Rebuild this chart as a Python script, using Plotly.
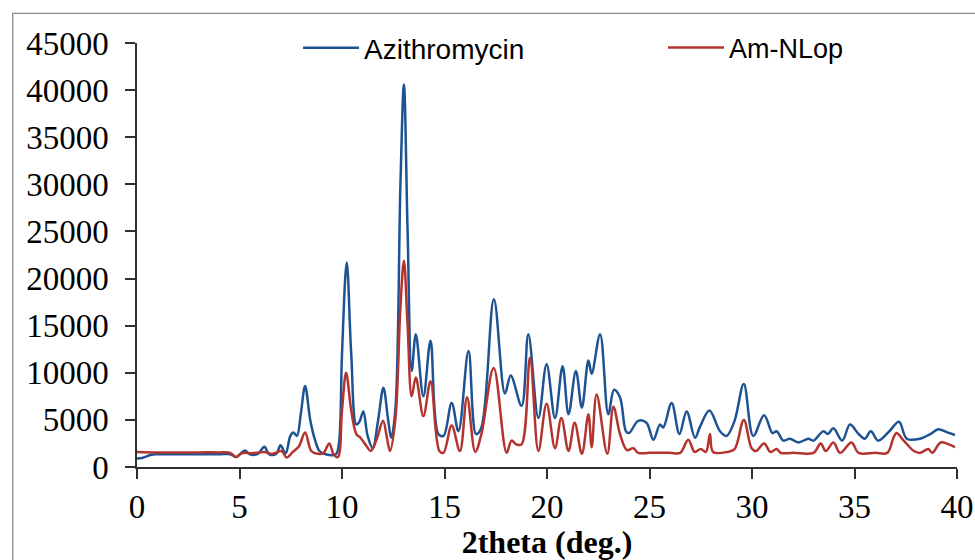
import plotly.graph_objects as go

# ---- data ----
two_theta_azi = [0.0, 0.25, 0.7, 1.0, 2.0, 3.0, 4.0, 4.55, 4.83, 5.05, 5.27, 5.5, 5.9, 6.21, 6.45,
                 6.8, 7.0, 7.25, 7.48, 7.63, 7.8, 8.0, 8.2, 8.45, 8.68, 8.9, 9.2, 9.7, 9.85, 10.0,
                 10.23, 10.45, 10.7, 10.85, 11.04, 11.25, 11.5, 11.75, 12.02, 12.25, 12.4, 12.6,
                 12.85, 13.02, 13.2, 13.4, 13.6, 13.97, 14.32, 14.7, 14.95, 15.35, 15.68, 16.17,
                 16.54, 16.8, 17.41, 17.95, 18.23, 18.76, 19.09, 19.58, 19.98, 20.39, 20.76, 21.05,
                 21.41, 21.7, 22.02, 22.18, 22.59, 22.99, 23.27, 23.56, 23.85, 24.0, 24.45, 24.85,
                 25.19, 25.51, 25.67, 26.08, 26.46, 26.81, 27.22, 27.45, 27.92, 28.44, 28.76, 29.15,
                 29.6, 30.06, 30.59, 31.0, 31.2, 31.53, 31.85, 32.26, 32.75, 33.0, 33.48, 33.7,
                 33.97, 34.4, 34.78, 35.2, 35.5, 35.8, 36.15, 36.7, 37.17, 37.55, 38.2, 38.7,
                 39.09, 39.5, 39.9]
intensity_azi = [900, 950, 1300, 1350, 1350, 1350, 1350, 1350, 1050, 1400, 1750, 1350, 1400, 2150, 1350,
                 1400, 2300, 1450, 3300, 3650, 3300, 5800, 8600, 5000, 2900, 1700, 1350, 1350, 2500, 12000,
                 21700, 12000, 4500, 4800, 5900, 3300, 2000, 4800, 8400, 5000, 3100, 6000,
                 30000, 40600, 25000, 10200, 14100, 7500, 13400, 3500, 3300, 6800, 3800, 12300,
                 3500, 4200, 17800, 7800, 9700, 6500, 14100, 5200, 10900, 5200, 10700, 5600,
                 10200, 6300, 11300, 9900, 14100, 5600, 8200, 7400, 3800, 3600, 4900, 4700,
                 2900, 4500, 4200, 6800, 3500, 5900, 3100, 4200, 6000, 3800, 3300, 4900,
                 8800, 3300, 5500, 3600, 3800, 2800, 3000, 2600, 3000, 2800, 3800, 3500,
                 4100, 2800, 4500, 3500, 3000, 3800, 2800, 3800, 4800, 3000, 3000, 3500,
                 4000, 3700, 3400]

two_theta_am = [0.0, 1.0, 2.0, 3.0, 4.0, 4.55, 4.83, 5.05, 5.27, 5.6, 6.2, 6.6, 7.05, 7.3, 7.6, 7.9,
                8.2, 8.5, 8.8, 9.1, 9.38, 9.6, 9.8, 10.0, 10.2, 10.45, 10.7, 10.9, 11.2, 11.4, 11.7,
                12.0, 12.2, 12.34, 12.6, 12.85, 13.02, 13.2, 13.4, 13.6, 13.97, 14.32, 14.75, 14.95,
                15.35, 15.75, 16.1, 16.5, 16.8, 17.4, 18.03, 18.27, 18.5, 18.76, 19.17, 19.58, 19.98,
                20.39, 20.7, 21.05, 21.35, 21.7, 22.02, 22.18, 22.42, 22.94, 23.24, 23.56, 23.9,
                24.21, 24.45, 25.0, 26.0, 26.5, 26.89, 27.2, 27.5, 27.75, 27.95, 28.1, 28.8, 29.15,
                29.6, 29.98, 30.2, 30.59, 30.9, 31.2, 31.4, 32.0, 33.0, 33.35, 33.6, 33.97, 34.3,
                34.85, 35.2, 36.0, 36.6, 36.9, 37.05, 37.4, 37.9, 38.2, 38.6, 38.8, 39.2, 39.6, 39.9]
intensity_am = [1600, 1550, 1550, 1550, 1550, 1500, 1050, 1400, 1500, 1450, 1600, 1400, 1700, 1000, 1600, 2200,
                3650, 1700, 1400, 1500, 2500, 1300, 1050, 6000, 10000, 6000, 3500, 3100, 2200, 1700, 3000,
                4900, 3000, 1700, 5000, 17000, 21900, 15000, 7500, 9500, 5400, 9100, 1700, 1500,
                4400, 1700, 7400, 1600, 3500, 10500, 1500, 2800, 2400, 2400, 11600, 1700, 6700,
                2000, 5200, 1700, 4700, 1400, 5600, 2100, 7700, 1400, 6400, 3500, 1800,
                2000, 1500, 1500, 1500, 1500, 2900, 1600, 1900, 1600, 3500, 1600, 1600, 1900,
                5000, 2000, 1700, 2500, 1600, 1900, 1500, 1500, 1500, 2500, 1700, 2600, 1500,
                2600, 1500, 1500, 1500, 3100, 3600, 2800, 1700, 1500, 1900, 1500, 2600, 2400, 2100]

series_names = ["Azithromycin", "Am-NLop"]
x_ticks = [0, 5, 10, 15, 20, 25, 30, 35, 40]
y_ticks = [0, 5000, 10000, 15000, 20000, 25000, 30000, 35000, 40000, 45000]
x_title = "2theta (deg.)"

BLUE = "#1d5393"
RED = "#b3332f"

fig = go.Figure()
fig.add_trace(go.Scatter(x=two_theta_azi, y=intensity_azi, mode="lines", name=series_names[0],
                         line=dict(color=BLUE, width=2.5, shape="spline", smoothing=1.0),
                         legend="legend", showlegend=True))
fig.add_trace(go.Scatter(x=two_theta_am, y=intensity_am, mode="lines", name=series_names[1],
                         line=dict(color=RED, width=2.5, shape="spline", smoothing=1.0),
                         legend="legend2", showlegend=True))

W, H = 975, 560
L, R, T, B = 137, 18, 43, 93
pw, ph = W - L - R, H - T - B

def px(xp):
    return (xp - L) / pw

def py(yp):
    return (H - B - yp) / ph

serif = "Liberation Serif, Times New Roman, serif"
axis_font = dict(family=serif, size=33, color="#000000")
leg_font = dict(family="Liberation Sans, Arial, sans-serif", size=28, color="#000000")

fig.update_layout(
    width=W, height=H,
    showlegend=True,
    margin=dict(l=L, r=R, t=T, b=B, autoexpand=False),
    paper_bgcolor="white", plot_bgcolor="white",
    xaxis=dict(range=[0, 40], tickvals=x_ticks, ticktext=[str(v) for v in x_ticks],
               automargin=False,
               showline=True, linecolor="#303030", linewidth=1.5, mirror=False,
               ticks="outside", ticklen=10, tickwidth=1.5, tickcolor="#303030",
               showgrid=False, zeroline=False, tickfont=axis_font,
               title=dict(text="<b>" + x_title + "</b>", font=dict(family=serif, size=32, color="#000000"), standoff=20)),
    yaxis=dict(range=[0, 45000], tickvals=y_ticks, ticktext=[str(v) for v in y_ticks],
               automargin=False,
               showline=True, linecolor="#303030", linewidth=1.5,
               ticks="outside", ticklen=10, tickwidth=1.5, tickcolor="#303030",
               showgrid=False, zeroline=False, tickfont=axis_font, ticklabelstandoff=10),
    legend=dict(visible=True, x=px(298), y=py(48), xanchor="left", yanchor="middle", orientation="h",
                font=leg_font, bgcolor="rgba(0,0,0,0)", itemwidth=56, tracegroupgap=0),
    legend2=dict(visible=True, x=px(663), y=py(48), xanchor="left", yanchor="middle", orientation="h",
                 font=dict(family="Liberation Sans, Arial, sans-serif", size=27, color="#000000"),
                 bgcolor="rgba(0,0,0,0)", itemwidth=56, tracegroupgap=0),
    shapes=[dict(type="rect", xref="paper", yref="paper",
                 x0=px(12.7), x1=px(990), y0=py(580), y1=py(13.3),
                 line=dict(color="#8a8a8a", width=1.3), fillcolor="rgba(0,0,0,0)", layer="below")],
)

fig.write_html("out.html", config={"displayModeBar": False},
               post_script="document.body.style.margin='0px';")
